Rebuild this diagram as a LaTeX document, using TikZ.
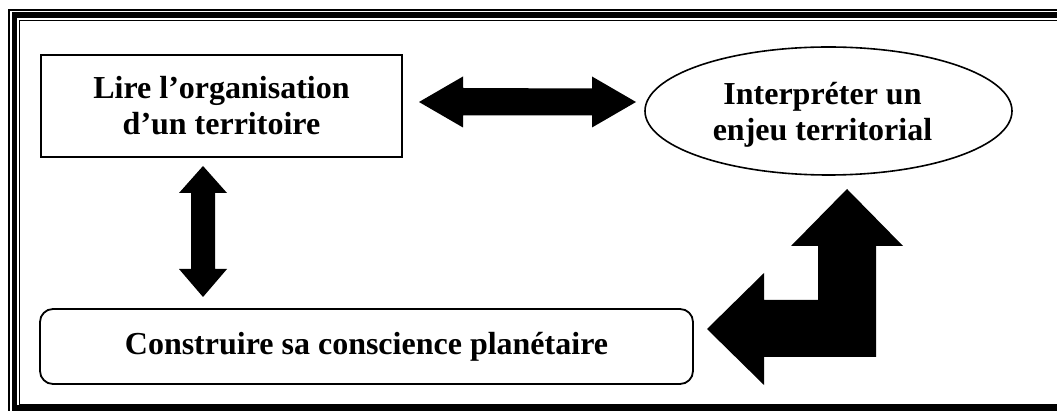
\documentclass[tikz,border=0pt]{standalone}
\usepackage{fontspec}
\setmainfont{Liberation Serif}
\usetikzlibrary{shapes.geometric}
\begin{document}
\begin{tikzpicture}[x=1pt,y=-1pt,
  lbl/.style={font=\bfseries\fontsize{32}{36}\selectfont,align=center,inner sep=0pt},
  blockarrow/.style={fill=black,draw=none}]
\useasboundingbox (0,0) rectangle (1057,411);
\begin{scope}
\clip (0,0) rectangle (1057,411);
% frame
\draw[line width=1.6] (9,10.3) rectangle (1080,430);
\draw[line width=5.8] (14.4,15.3) rectangle (1075,408.2);
\draw[line width=1.1] (19.6,20.6) rectangle (1070,405);
\end{scope}
% nodes
\node[lbl,draw,line width=2,minimum width=361,minimum height=102] (lire) at (221.5,106) {Lire l’organisation\\d’un territoire};
\node[draw,ellipse,line width=1.6,minimum width=367,minimum height=128,inner sep=0pt] (interp) at (828.5,111) {};
\node[lbl] at ([xshift=-6,yshift=-4]interp.center) {Interpréter un\\enjeu territorial};
\node[lbl,draw,rounded corners=13,line width=1.8,minimum width=653,minimum height=75] (constr) at (366.5,346.5) {Construire sa conscience planétaire};
% horizontal double arrow between lire and interp
\coordinate (hl) at (419,102);
\coordinate (hr) at (636,102);
\fill[blockarrow] (hl) -- ++(44,-25.5) -- ++(0,11.5) -- (592,88.5) -- ++(0,-12) -- (hr) -- ++(-44,25.5) -- ++(0,-12) -- (463,115.5) -- ++(0,12) -- cycle;
% vertical double arrow between lire and constr
\coordinate (vt) at (203,166);
\coordinate (vb) at (203,297);
\fill[blockarrow] (vt) -- ++(24,27) -- ++(-12,0) -- (215,269) -- ++(12,0) -- (vb) -- ++(-24,-28) -- ++(12,0) -- (191,193) -- ++(-12,0) -- cycle;
% L-shaped double arrow between constr and interp
\coordinate (lt) at (847,189);
\coordinate (ll) at (707,329);
\fill[blockarrow] (lt) -- (903,246) -- (876,246) -- (876,357) -- (764,357) -- (764,385) -- (ll) -- (764,273) -- (764,300) -- (818,300) -- (818,246) -- (791,246) -- cycle;
\end{tikzpicture}
\end{document}
